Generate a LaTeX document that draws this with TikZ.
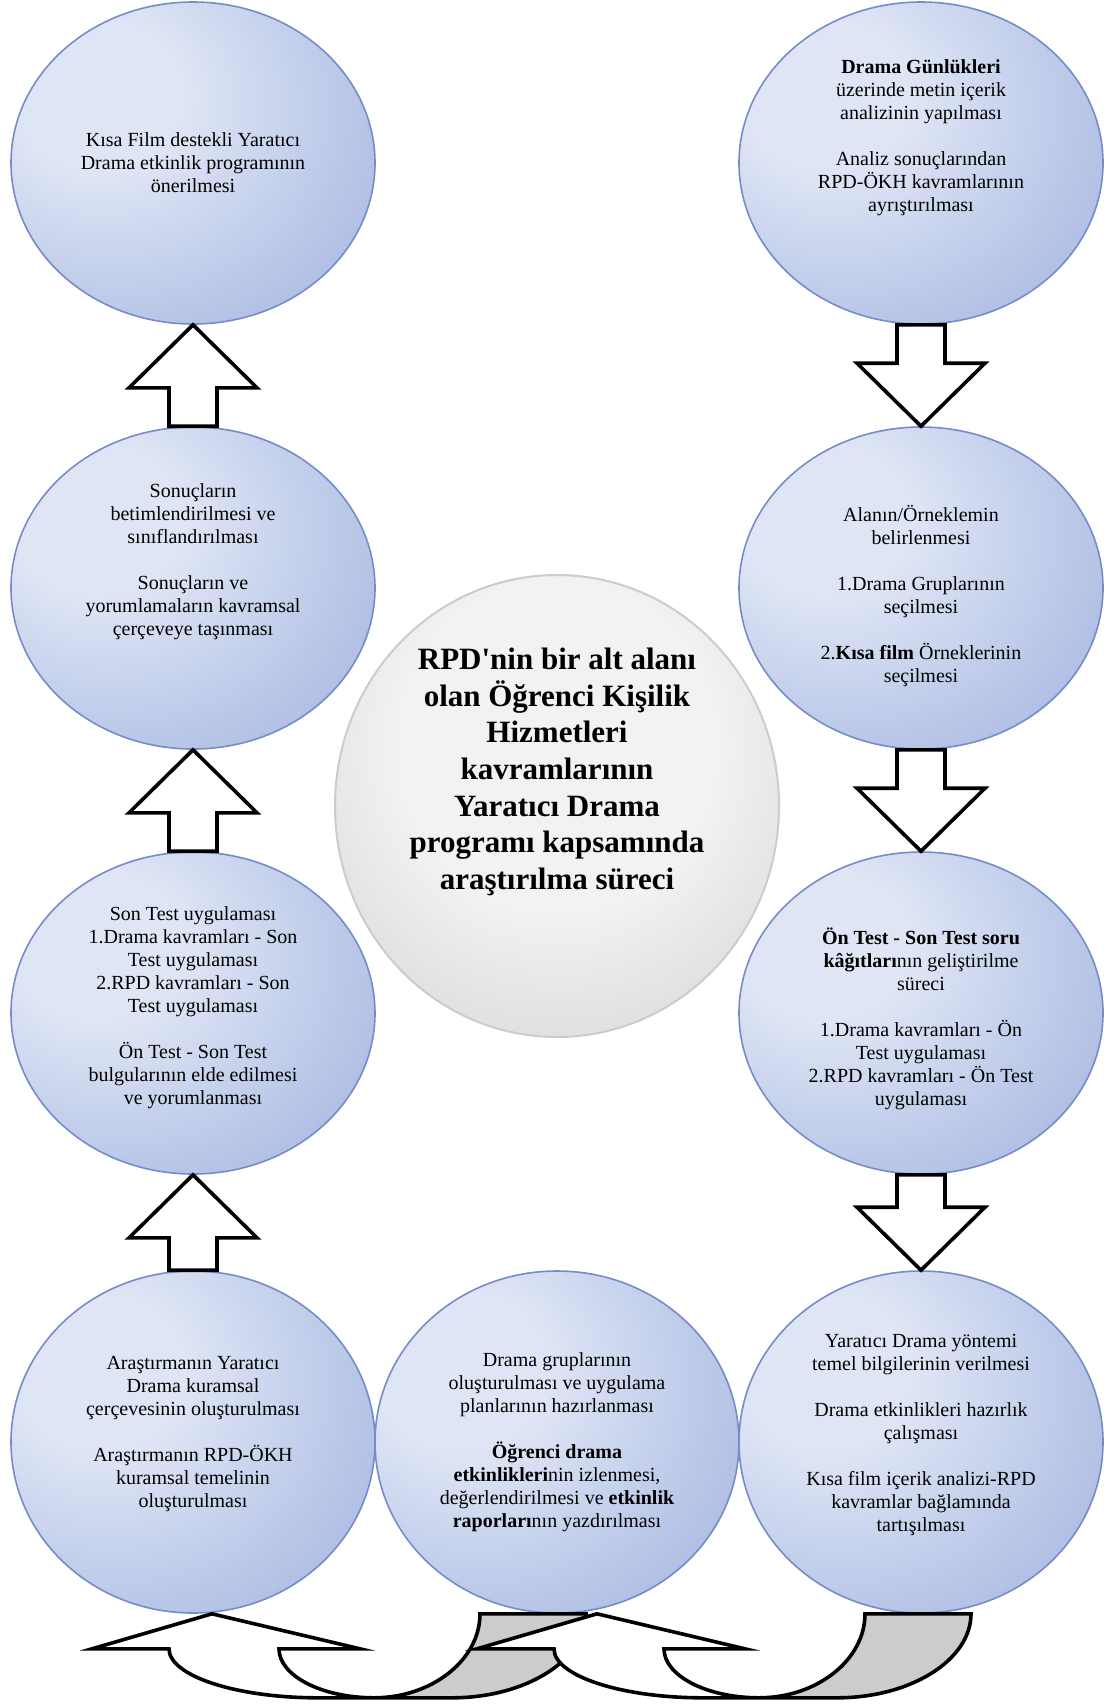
\documentclass[tikz,border=0pt]{standalone}
\usepackage{fontspec}
\setmainfont{Liberation Serif}
\newfontfamily\hubfont{Liberation Serif}
\usetikzlibrary{shapes.geometric,calc,positioning}

\definecolor{bubin}{RGB}{222,229,245}
\definecolor{bubout}{RGB}{138,160,214}
\definecolor{bubrim}{RGB}{118,140,200}
\definecolor{hubin}{RGB}{242,242,242}
\definecolor{hubout}{RGB}{188,188,188}
\definecolor{bandgray}{RGB}{204,204,204}
\pgfdeclareradialshading{bubble}{\pgfpoint{-15bp}{12bp}}{color(0bp)=(bubin); color(12bp)=(bubin); color(58bp)=(bubout); color(100bp)=(bubout)}
\pgfdeclareradialshading{hubshade}{\pgfpoint{0bp}{8bp}}{color(0bp)=(hubin); color(18bp)=(hubin); color(56bp)=(hubout); color(100bp)=(hubout)}

\begin{document}
\begin{tikzpicture}[x=0.5pt,y=-0.5pt,
    stage/.style={ellipse,draw=bubrim,line width=0.8pt,shading=bubble,
        minimum width=182pt,minimum height=161pt,inner sep=0pt},
    low/.style={minimum height=171pt},
    hub/.style={ellipse,draw=gray!40,line width=1pt,shading=hubshade,
        minimum width=222pt,minimum height=231pt,inner sep=0pt},
    note/.style={align=center,inner sep=0pt,font=\fontsize{10}{11.5}\selectfont},
    title/.style={align=center,inner sep=0pt,font=\hubfont\bfseries\fontsize{15.5}{18.3}\selectfont},
    blockarrow/.style={draw=black,fill=white,line width=1.8pt},
    band/.style={draw=black,fill=bandgray,line width=1.8pt}]
    \fill[white] (0,0) rectangle (1107,1704);
    \useasboundingbox (0,0) rectangle (1107,1704);

    % stages
    \node[stage] (l1) at (193,163) {};
    \node[stage] (l2) at (193,588) {};
    \node[stage] (l3) at (193,1013) {};
    \node[stage,low] (l4) at (193,1442) {};
    \node[stage,low] (m) at (557,1442) {};
    \node[stage,low] (r4) at (921,1442) {};
    \node[stage] (r3) at (921,1013) {};
    \node[stage] (r2) at (921,588) {};
    \node[stage] (r1) at (921,163) {};
    \node[hub] (c) at (557,806) {};

    \node[note] (l1t) at (l1) {Kısa Film destekli Yaratıcı\\ Drama etkinlik programının\\ önerilmesi};
    \node[note,yshift=13pt] (l2t) at (l2) {Sonuçların\\ betimlendirilmesi ve\\ sınıflandırılması\\[11.5pt]
        Sonuçların ve\\ yorumlamaların kavramsal\\ çerçeveye taşınması};
    \node[note,yshift=2.5pt] (l3t) at (l3) {Son Test uygulaması\\ 1.Drama kavramları - Son\\ Test uygulaması\\
        2.RPD kavramları - Son\\ Test uygulaması\\[11.5pt]
        Ön Test - Son Test\\ bulgularının elde edilmesi\\ ve yorumlanması};
    \node[note,yshift=4pt] (l4t) at (l4) {Araştırmanın Yaratıcı\\ Drama kuramsal\\ çerçevesinin oluşturulması\\[11.5pt]
        Araştırmanın RPD-ÖKH\\ kuramsal temelinin\\ oluşturulması};
    \node[note] (mt) at (m) {Drama gruplarının\\ oluşturulması ve uygulama\\ planlarının hazırlanması\\[11.5pt]
        \textbf{Öğrenci drama}\\ \textbf{etkinlikleri}nin izlenmesi,\\
        değerlendirilmesi ve \textbf{etkinlik}\\ \textbf{raporları}nın yazdırılması};
    \node[note,yshift=3.5pt] (r4t) at (r4) {Yaratıcı Drama yöntemi\\ temel bilgilerinin verilmesi\\[11.5pt]
        Drama etkinlikleri hazırlık\\ çalışması\\[11.5pt]
        Kısa film içerik analizi-RPD\\ kavramlar bağlamında\\ tartışılması};
    \node[note,yshift=-3pt] (r3t) at (r3) {\textbf{Ön Test - Son Test soru}\\ \textbf{kâğıtları}nın geliştirilme\\ süreci\\[11.5pt]
        1.Drama kavramları - Ön\\ Test uygulaması\\ 2.RPD kavramları - Ön Test\\ uygulaması};
    \node[note,yshift=-4pt] (r2t) at (r2) {Alanın/Örneklemin\\ belirlenmesi\\[11.5pt]
        1.Drama Gruplarının\\ seçilmesi\\[11.5pt]
        2.\textbf{Kısa film} Örneklerinin\\ seçilmesi};
    \node[note,yshift=12.5pt] (r1t) at (r1) {\textbf{Drama Günlükleri}\\ üzerinde metin içerik\\ analizinin yapılması\\[11.5pt]
        Analiz sonuçlarından\\ RPD-ÖKH kavramlarının\\ ayrıştırılması};
    \node[title,yshift=17pt] (ct) at (c) {RPD'nin bir alt alanı\\ olan Öğrenci Kişilik\\ Hizmetleri\\ kavramlarının\\
        Yaratıcı Drama\\ programı kapsamında\\ araştırılma süreci};

    % block arrows
    \foreach \a/\b in {l2/l1,l3/l2,l4/l3}
        \draw[blockarrow] let \p1=(\a.north), \p2=(\b.south) in
            (\x1-12pt,\y1) -- (\x1-12pt,\y2-31.5pt) -- (\x1-32pt,\y2-31.5pt) -- (\x2,\y2)
            -- (\x1+32pt,\y2-31.5pt) -- (\x1+12pt,\y2-31.5pt) -- (\x1+12pt,\y1) -- cycle;
    \foreach \a/\b in {r1/r2,r2/r3,r3/r4}
        \draw[blockarrow] let \p1=(\a.south), \p2=(\b.north) in
            (\x1-12pt,\y1) -- (\x1-12pt,\y2+31.5pt) -- (\x1-32pt,\y2+31.5pt) -- (\x2,\y2)
            -- (\x1+32pt,\y2+31.5pt) -- (\x1+12pt,\y2+31.5pt) -- (\x1+12pt,\y1) -- cycle;

    % curved arrows at the bottom
    \foreach \o/\dx in {l4/-101,m/-80} {
        \begin{scope}[shift={($(\o.south)+(\dx,0)$)}]
            \draw[band] (388,0) -- (494,0) .. controls (494,46) and (434,84) .. (360,84)
                -- (282,84) .. controls (340,84) and (388,46) .. (388,0) -- cycle;
            \draw[blockarrow] (0,35) -- (120,0) -- (268,35) -- (187,35)
                .. controls (187,62) and (230,84) .. (282,84) -- (226,84)
                .. controls (144,84) and (77,62) .. (77,35) -- cycle;
        \end{scope}
    }
\end{tikzpicture}
\end{document}
